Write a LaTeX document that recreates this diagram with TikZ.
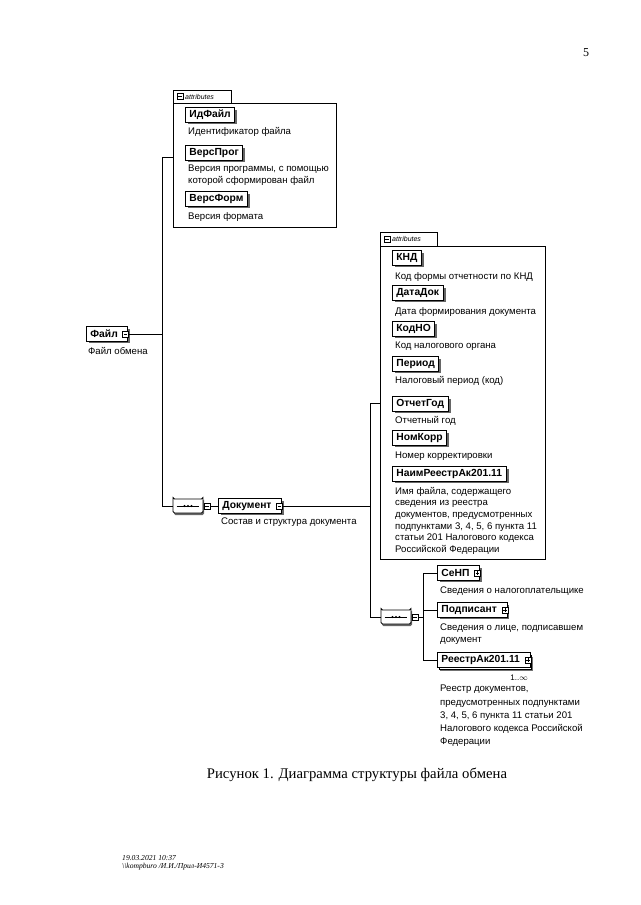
\documentclass[tikz,border=0pt]{standalone}
\usepackage{fontspec}
\setmainfont{Liberation Serif}
\setsansfont{Liberation Sans}
\usetikzlibrary{shadows,shapes.misc}

% small collapse / expand squares (argument: a named coordinate)
\newcommand{\minussq}[1]{%
  \draw[fill=white, line width=0.6pt] ([shift={(-3,-3)}]#1) rectangle ([shift={(3,3)}]#1);
  \draw[line width=0.6pt] ([shift={(-1.8,0)}]#1) -- ([shift={(1.8,0)}]#1);}
\newcommand{\plussq}[1]{%
  \minussq{#1}
  \draw[line width=0.6pt] ([shift={(0,-1.8)}]#1) -- ([shift={(0,1.8)}]#1);}

\tikzset{
  elembase/.style={draw, fill=white, line width=0.8pt, anchor=west,
    font=\sffamily\bfseries\fontsize{10.3}{12}\selectfont,
    inner xsep=4pt, inner ysep=0pt, minimum height=14.5pt},
  elem/.style={elembase,
    drop shadow={shadow xshift=2.5pt, shadow yshift=-2pt, fill=black!60, opacity=1}},
  multielem/.style={elembase,
    drop shadow={shadow xshift=3pt, shadow yshift=-4pt, fill=black!55, opacity=1},
    copy shadow={shadow xshift=1.5pt, shadow yshift=-2.5pt}},
  desc/.style={font=\sffamily\fontsize{9.6}{12}\selectfont, anchor=north west,
    align=left, inner sep=0pt},
  seqsym/.style={chamfered rectangle, chamfered rectangle xsep=5pt,
    chamfered rectangle ysep=4pt, draw, fill=white, line width=0.8pt,
    rounded corners=1.5pt, minimum width=30pt, minimum height=14pt, inner sep=0pt,
    drop shadow={shadow xshift=1pt, shadow yshift=-2pt, fill=black!60, opacity=1}},
  tabtext/.style={font=\sffamily\itshape\fontsize{7}{8}\selectfont, anchor=west, inner sep=0pt},
  conn/.style={line width=0.7pt},
}

\begin{document}
\begin{tikzpicture}[x=1pt,y=-1pt]
  \useasboundingbox (0,0) rectangle (640,905);

  % page number
  \node[font=\fontsize{12}{14}\selectfont] (pagenum) at (586,53) {5};

  % ---- Файл
  \node[elem] (fajl) at (86,334) {Файл\hspace*{6pt}};
  \coordinate (fajlsq) at ([xshift=-2.5pt]fajl.east);
  \minussq{fajlsq}
  \node[desc] (fajldesc) at (88,347) {Файл обмена};

  % ---- attributes of Файл
  \coordinate (a1nw) at (173,103);
  \coordinate (a1se) at (336,227);
  \draw[line width=0.6pt] (a1nw) rectangle (a1se);
  \draw[line width=0.6pt] (a1nw) -- (173,90) -- (231,90) -- (231,103);
  \coordinate (a1sq) at (180,96.5);
  \minussq{a1sq}
  \node[tabtext] (a1tab) at (185,96.5) {attributes};

  \node[elem] (idfajl) at (185,115) {ИдФайл};
  \node[desc] (idfajldesc) at (188,127) {Идентификатор файла};
  \node[elem] (versprog) at (185,153) {ВерсПрог};
  \node[desc] (versprogdesc) at (188,164.5) {Версия программы, с помощью\\которой сформирован файл};
  \node[elem] (versform) at (185,199) {ВерсФорм};
  \node[desc] (versformdesc) at (188,212) {Версия формата};

  % ---- trunk from Файл
  \coordinate (t1top) at (162,157);
  \coordinate (t1bot) at (162,506);
  \draw[conn] (fajl.east) -- (fajl.east -| t1top);
  \draw[conn] (t1top) -- (t1bot);
  \draw[conn] (t1top) -- (t1top -| a1nw);

  % ---- sequence -> Документ
  \node[seqsym] (seq1) at (188,506) {};
  \draw[conn] ([xshift=4pt]seq1.west) -- ([xshift=-4pt]seq1.east);
  \foreach \dx in {-3.5,0,3.5}
    \fill ([xshift=\dx pt]seq1.center) circle (1.1);
  \draw[conn] (t1bot) -- (seq1.west);
  \coordinate (sq1) at ([xshift=3.5pt]seq1.east);
  \minussq{sq1}
  \node[elem] (dok) at (218,506) {Документ\hspace*{6pt}};
  \coordinate (doksq) at ([xshift=-2.5pt]dok.east);
  \minussq{doksq}
  \draw[conn] ([xshift=3pt]sq1) -- (dok.west);
  \node[desc] (dokdesc) at (221,517.5) {Состав и структура документа};

  % ---- attributes of Документ
  \coordinate (a2nw) at (380,246);
  \coordinate (a2se) at (545,559);
  \draw[line width=0.6pt] (a2nw) rectangle (a2se);
  \draw[line width=0.6pt] (a2nw) -- (380,232) -- (437,232) -- (437,246);
  \coordinate (a2sq) at (387,239);
  \minussq{a2sq}
  \node[tabtext] (a2tab) at (392,239) {attributes};

  \node[elem] (knd) at (392,258) {КНД};
  \node[desc] (knddesc) at (395,272) {Код формы отчетности по КНД};
  \node[elem] (datadok) at (392,293) {ДатаДок};
  \node[desc] (datadokdesc) at (395,307) {Дата формирования документа};
  \node[elem] (kodno) at (392,329) {КодНО};
  \node[desc] (kodnodesc) at (395,342) {Код налогового органа};
  \node[elem] (period) at (392,364) {Период};
  \node[desc] (perioddesc) at (395,376) {Налоговый период (код)};
  \node[elem] (otchgod) at (392,404) {ОтчетГод};
  \node[desc] (otchgoddesc) at (395,416) {Отчетный год};
  \node[elem] (nomkorr) at (392,438) {НомКорр};
  \node[desc] (nomkorrdesc) at (395,452) {Номер корректировки};
  \node[elem] (naim) at (392,474) {НаимРеестрАк201.11};
  \node[desc, font=\sffamily\fontsize{9.6}{11.6}\selectfont] (naimdesc) at (395,487)
    {Имя файла, содержащего\\сведения из реестра\\документов, предусмотренных\\подпунктами 3, 4, 5, 6 пункта 11\\статьи 201 Налогового кодекса\\Российской Федерации};

  % ---- trunk from Документ
  \coordinate (t2top) at (370,403);
  \coordinate (t2bot) at (370,617);
  \draw[conn] (dok.east) -- (dok.east -| t2top);
  \draw[conn] (t2top) -- (t2bot);
  \draw[conn] (t2top) -- (t2top -| a2nw);

  % ---- sequence -> СеНП, Подписант, РеестрАк201.11
  \node[seqsym] (seq2) at (396,617) {};
  \draw[conn] ([xshift=4pt]seq2.west) -- ([xshift=-4pt]seq2.east);
  \foreach \dx in {-3.5,0,3.5}
    \fill ([xshift=\dx pt]seq2.center) circle (1.1);
  \draw[conn] (t2bot) -- (seq2.west);
  \coordinate (sq2) at ([xshift=3.5pt]seq2.east);
  \minussq{sq2}

  \coordinate (t3top) at (423,573);
  \coordinate (t3bot) at (423,660);
  \draw[conn] ([xshift=3pt]sq2) -- (sq2 -| t3top);
  \draw[conn] (t3top) -- (t3bot);

  \node[elem] (senp) at (437,573) {СеНП\hspace*{6pt}};
  \coordinate (senpsq) at ([xshift=-2.5pt]senp.east);
  \plussq{senpsq}
  \node[desc] (senpdesc) at (440,587) {Сведения о налогоплательщике};
  \node[elem] (podp) at (437,610) {Подписант\hspace*{6pt}};
  \coordinate (podpsq) at ([xshift=-2.5pt]podp.east);
  \plussq{podpsq}
  \node[desc] (podpdesc) at (440,624) {Сведения о лице, подписавшем\\документ};
  \node[multielem] (reestr) at (437,660) {РеестрАк201.11\hspace*{6pt}};
  \coordinate (reestrsq) at ([xshift=-2.5pt]reestr.east);
  \plussq{reestrsq}
  \node[font=\sffamily\fontsize{8}{9}\selectfont, anchor=east, inner sep=0pt] (reestrocc)
    at (528,678) {1..$\infty$};
  \node[desc, font=\sffamily\fontsize{9.6}{13.2}\selectfont] (reestrdesc) at (440,685)
    {Реестр документов,\\предусмотренных подпунктами\\3, 4, 5, 6 пункта 11 статьи 201\\Налогового кодекса Российской\\Федерации};

  \draw[conn] (t3top) -- (senp.west);
  \draw[conn] (t3top |- podp.west) -- (podp.west);
  \draw[conn] (t3bot) -- (reestr.west);

  % ---- caption and footer
  \node[font=\fontsize{14.7}{17}\selectfont] (caption) at (357,775)
    {Рисунок 1. Диаграмма структуры файла обмена};
  \node[font=\itshape\fontsize{7.6}{8.5}\selectfont, anchor=north west, align=left,
    inner sep=0pt] (footer) at (122,855) {19.03.2021 10:37\\\textbackslash\textbackslash kompburo /И.И./Прил-И4571-3};
\end{tikzpicture}
\end{document}
